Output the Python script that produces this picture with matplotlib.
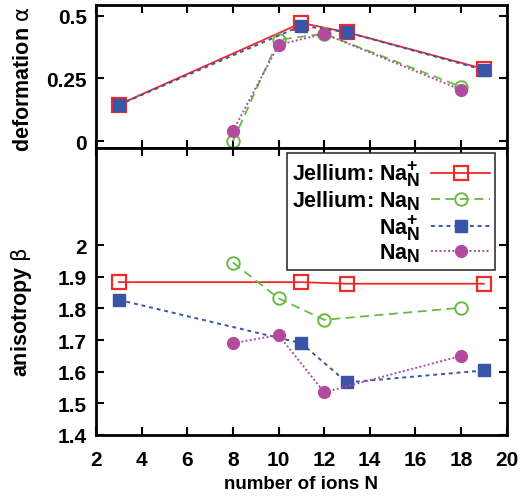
import numpy as np
import matplotlib
matplotlib.use('Agg')
import matplotlib.pyplot as plt
import matplotlib._mathtext as mtext

# indices (N e +) um pouco maiores, como no original
mtext.SHRINK_FACTOR = 0.82

plt.rcParams['font.family'] = ['Liberation Sans', 'DejaVu Sans']
plt.rcParams['font.weight'] = 'bold'
plt.rcParams['axes.labelweight'] = 'bold'
plt.rcParams['mathtext.fontset'] = 'custom'
plt.rcParams['mathtext.rm'] = 'Liberation Sans:bold'
plt.rcParams['mathtext.bf'] = 'Liberation Sans:bold'
plt.rcParams['mathtext.it'] = 'DejaVu Sans:weight=normal'

# dados
n_jel_plus = [3, 11, 13, 19]
alpha_jel_plus = [0.146, 0.471, 0.434, 0.288]
beta_jel_plus = [1.883, 1.883, 1.878, 1.878]

n_jel = [8, 10, 12, 18]
alpha_jel = [0.0, 0.404, 0.428, 0.217]
beta_jel = [1.945, 1.832, 1.764, 1.802]

n_plus = [3, 11, 13, 19]
alpha_plus = [0.145, 0.46, 0.434, 0.284]
beta_plus = [1.827, 1.69, 1.566, 1.604]

n_neu = [8, 10, 12, 18]
alpha_neu = [0.04, 0.384, 0.428, 0.205]
beta_neu = [1.69, 1.716, 1.535, 1.65]

labels = [r'Jellium: $\mathrm{Na}_\mathrm{N}^\mathrm{+}$',
          r'Jellium: $\mathrm{Na}_\mathrm{N}$',
          r'$\mathrm{Na}_\mathrm{N}^\mathrm{+}$',
          r'$\mathrm{Na}_\mathrm{N}$']

styles = [
    dict(color='#ee2a2a', ls='-', marker='s', mfc='none', ms=10, mew=1.6, lw=1.3),
    dict(color='#66bb44', ls=(0, (5, 3)), marker='o', mfc='none', ms=9, mew=1.4, lw=1.3),
    dict(color='#3a55a8', ls=(0, (2, 2)), marker='s', ms=9, lw=1.4),
    dict(color='#b24a9e', ls=(0, (1, 1.2)), marker='o', ms=8.5, lw=1.4),
]

fig = plt.figure(figsize=(5.31, 5.02), dpi=100)
ax1 = fig.add_axes([96/531, 1-149.3/502, 410.7/531, 143.3/502])
ax2 = fig.add_axes([96/531, 1-436/502, 410.7/531, 286.7/502])

series = [(n_jel_plus, alpha_jel_plus, beta_jel_plus),
          (n_jel, alpha_jel, beta_jel),
          (n_plus, alpha_plus, beta_plus),
          (n_neu, alpha_neu, beta_neu)]

for (n, a, b), st, lab in zip(series, styles, labels):
    ax1.plot(n, a, **st)
    ax2.plot(n, b, label=lab, **st)

ax1.set_xlim(2, 20)
ax2.set_xlim(2, 20)
ax1.set_ylim(-0.028, 0.5425)
ax2.set_ylim(1.4, 2.306)
ax1.set_yticks([0, 0.25, 0.5])
ax1.set_yticklabels(['0', '0.25', '0.5'])
ax1.set_xticks(np.arange(2, 21, 2))
ax1.set_xticklabels([])
ax2.set_xticks(np.arange(2, 21, 2))
ax2.set_yticks([1.4, 1.5, 1.6, 1.7, 1.8, 1.9, 2])
ax2.set_yticklabels(['1.4', '1.5', '1.6', '1.7', '1.8', '1.9', '2'])

for ax in (ax1, ax2):
    ax.tick_params(direction='in', top=True, right=True, length=6, width=1.5,
                   labelsize=15)
    ax.tick_params(axis='y', pad=6.5)
    ax.tick_params(axis='x', pad=11)
    for s in ax.spines.values():
        s.set_linewidth(2)

ax1.set_ylabel(r'deformation $\alpha$', fontsize=15.5)
ax2.set_ylabel(r'anisotropy $\beta$', fontsize=15.5)
ax2.set_xlabel('number of ions N', fontsize=13.5, labelpad=4)
ax1.yaxis.set_label_coords(-0.152, 0.49)
ax2.yaxis.set_label_coords(-0.152, 0.433)

leg = ax2.legend(loc='upper right', bbox_to_anchor=(0.9715, 0.9826), borderaxespad=0,
                 markerfirst=False, fontsize=15.5, fancybox=False,
                 edgecolor='#333333', framealpha=1,
                 handlelength=2.7, handletextpad=0.5, labelspacing=0.0,
                 borderpad=0.25)
leg.get_frame().set_linewidth(1.2)

plt.savefig('out.png', dpi=100)
